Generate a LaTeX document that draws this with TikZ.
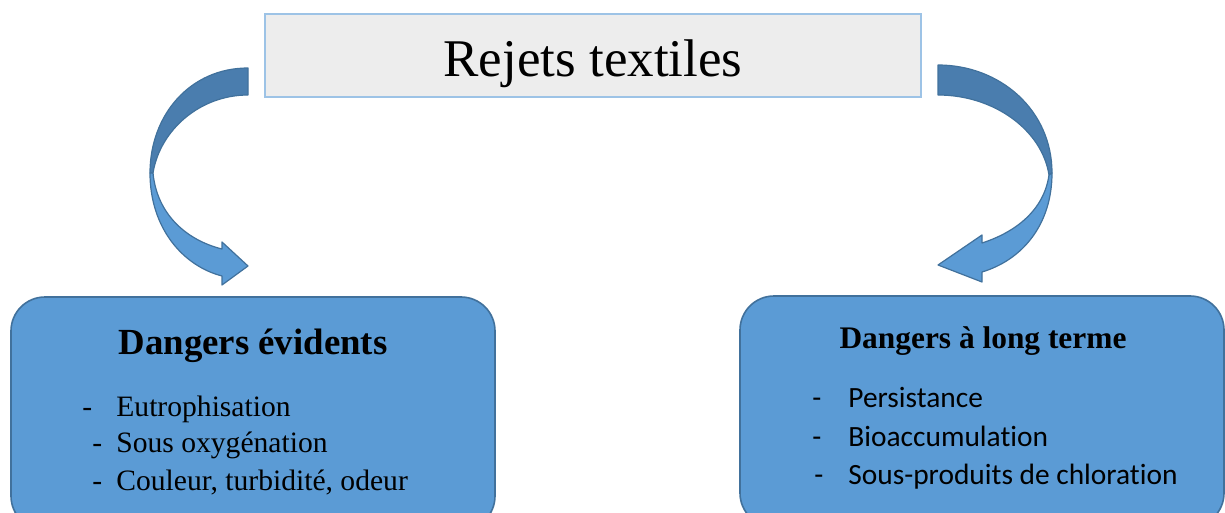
\documentclass[tikz,border=0pt]{standalone}
\usepackage{fontspec}
\setmainfont{Liberation Serif}
\newfontfamily\calibrifont[Ligatures=NoCommon]{Carlito}
\usepackage{xcolor}
\usepackage{tikz}
\definecolor{boxblue}{HTML}{5B9BD5}
\definecolor{boxedge}{HTML}{41719C}
\definecolor{arrowdark}{HTML}{4A7DAE}
\definecolor{titlegray}{HTML}{EDEDED}
\definecolor{titleedge}{HTML}{9DC3E6}
\tikzset{
  titlebox/.style={rectangle, draw=titleedge, line width=1pt, fill=titlegray,
                   minimum width=328pt, inner sep=0pt,
                   text height=31.5pt, text depth=10pt,
                   font=\fontsize{26.5}{30}\selectfont},
  dangerbox/.style={rectangle, draw=boxedge, line width=0.8pt, rounded corners=17pt,
                    fill=boxblue, minimum width=242pt, inner sep=0pt},
  headtxt/.style={anchor=base, inner sep=0pt, font=\bfseries\fontsize{18.4}{20}\selectfont},
  itemtxt/.style={anchor=base west, inner sep=0pt, font=\fontsize{14.8}{17}\selectfont},
  calitem/.style={itemtxt, font=\calibrifont\fontsize{14.7}{17}\selectfont},
  arrowback/.style={fill=arrowdark, draw=boxedge, line width=0.6pt, line join=round},
  arrowfront/.style={fill=boxblue, draw=boxedge, line width=0.6pt, line join=round},
}

\begin{document}
\begin{tikzpicture}[x=0.5pt, y=-0.5pt]

  \useasboundingbox (0,0) rectangle (1225,513);
  \clip (0,0) rectangle (1225,513);

  % source
  \node[titlebox] (rejets) at (593,55.5) {Rejets textiles};

  % the two families of hazards
  \node[dangerbox, minimum height=116.5pt] (evid)  at (253,413.5) {};
  \node[dangerbox, minimum height=115.5pt] (longt) at (982,411.5) {};

  \node[headtxt] (evidhead) at (253,354) {Dangers évidents};
  \node[headtxt, font=\bfseries\fontsize{15.7}{18}\selectfont]
        (longthead) at (983,348) {Dangers à long terme};

  \node[itemtxt] (eutro) at (82,416) {\makebox[17pt][l]{-}Eutrophisation};
  \node[itemtxt] (oxy)   at (92,452) {\makebox[12pt][l]{-}Sous oxygénation};
  \node[itemtxt] (coul)  at (92,490) {\makebox[12pt][l]{-}Couleur, turbidité, odeur};

  \node[calitem] (persist) at (812,407) {\makebox[18pt][l]{-}Persistance};
  \node[calitem] (bioacc)  at (812,446) {\makebox[18pt][l]{-}Bioaccumulation};
  \node[calitem] (chlor)   at (814,484) {\makebox[17pt][l]{-}Sous-produits de chloration};

  % curved block arrows
  \path[arrowback] (248,68) .. controls (190,68) and (150,115) .. (150,173)
        -- (153,173) .. controls (160,130) and (200,95) .. (248,95) -- cycle;
  \path[arrowfront] (150,173) .. controls (150,228) and (183,266) .. (222,276)
        -- (222,285) -- (248,266) -- (222,242) -- (222,249)
        .. controls (186,240) and (157,214) .. (153,173) -- cycle;

  \path[arrowback] (938,65) .. controls (1000,65) and (1052,110) .. (1052,173)
        -- (1049,175) .. controls (1042,130) and (994,95) .. (938,95) -- cycle;
  \path[arrowfront] (1052,173) .. controls (1052,225) and (1022,260) .. (982,272)
        -- (982,282) -- (938,265) -- (982,235) -- (982,243)
        .. controls (1016,232) and (1044,210) .. (1049,175) -- cycle;

\end{tikzpicture}
\end{document}
